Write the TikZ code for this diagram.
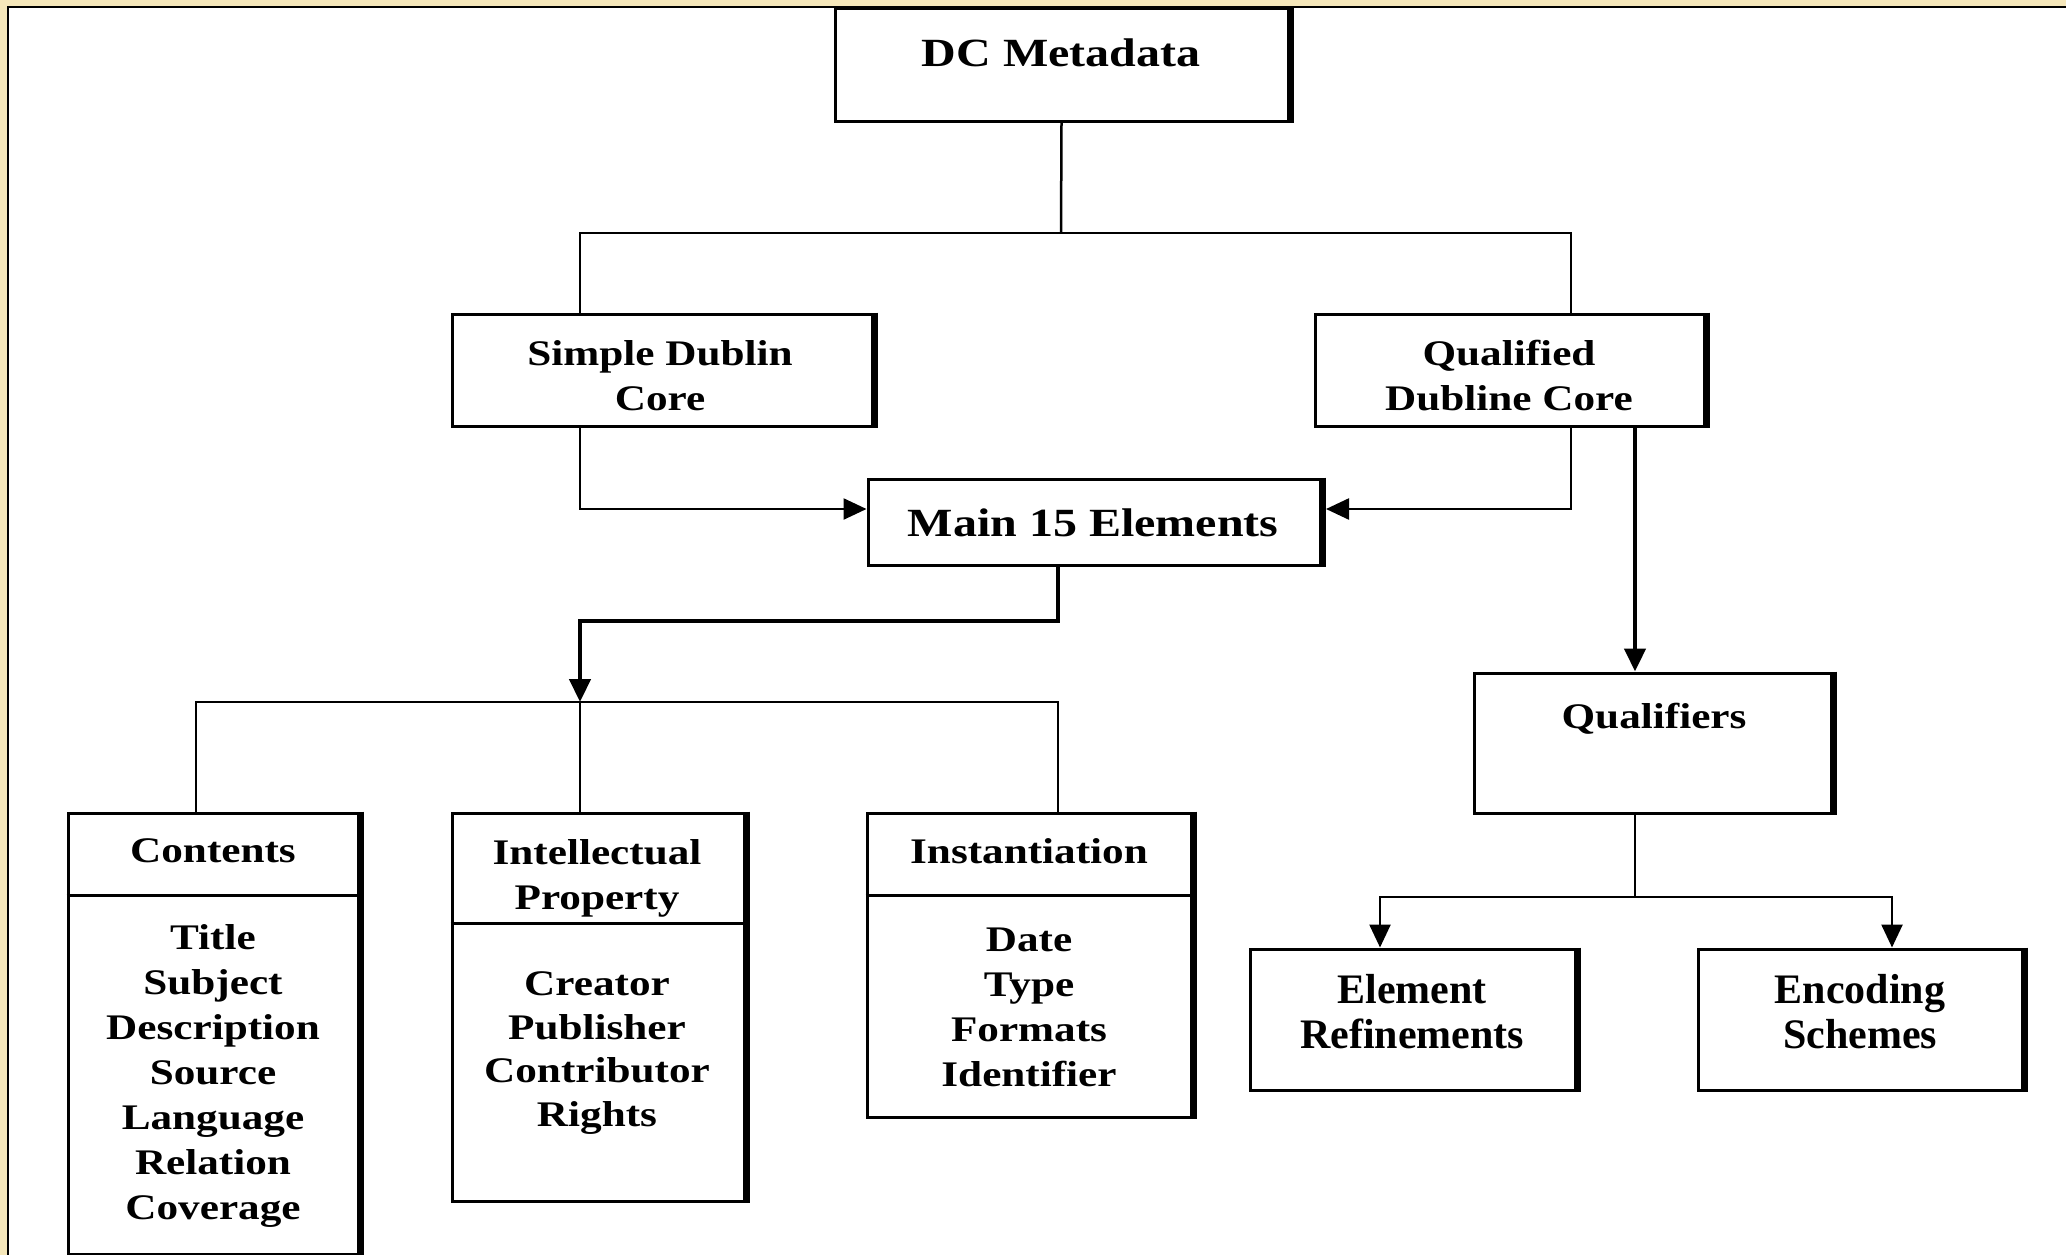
\documentclass[tikz,border=0pt]{standalone}
\usepackage{fontspec}
\setmainfont{Liberation Serif}[FakeStretch=1.2]
\newfontfamily\narrowserif{Liberation Serif}
\usetikzlibrary{arrows.meta}
\definecolor{parchment}{RGB}{245,231,186}
\tikzset{
  box/.style={draw, line width=3pt, rectangle, inner sep=0pt},
  lbl/.style={font=\bfseries\fontsize{36}{45}\selectfont, align=center, inner sep=0pt},
  biglbl/.style={font=\bfseries\fontsize{40}{45}\selectfont, align=center, inner sep=0pt},
  narrowlbl/.style={font=\narrowserif\bfseries\fontsize{42}{45}\selectfont, align=center, inner sep=0pt},
  conn/.style={line width=2.5pt},
  thickconn/.style={line width=4.5pt},
  divider/.style={line width=2.5pt},
  tip/.style={-{Triangle[length=23pt,width=21pt]}},
  edge/.style={line width=6pt}
}
\begin{document}
\begin{tikzpicture}[x=1pt,y=-1pt]
\useasboundingbox (0,0) rectangle (2066,1255);
% page frame
\fill[parchment] (0,0) rectangle (2066,1255);
\fill[white] (8,7) rectangle (2066,1255);
\draw[line width=2.5pt] (8,1255) -- (8,7) -- (2066,7);

% boxes
\node[box, minimum width=453pt, minimum height=112pt] (dc)   at (1061.5,65) {};
\node[box, minimum width=420pt, minimum height=112pt] (sdc)  at (662,370) {};
\node[box, minimum width=389pt, minimum height=112pt] (qdc)  at (1509.5,370) {};
\node[box, minimum width=452pt, minimum height=86pt]  (main) at (1094,522) {};
\node[box, minimum width=357pt, minimum height=140pt] (qual) at (1652.5,743) {};
\node[box, minimum width=290pt, minimum height=441pt] (cont) at (213,1033.5) {};
\node[box, minimum width=292pt, minimum height=388pt] (ip)   at (598,1007) {};
\node[box, minimum width=324pt, minimum height=304pt] (inst) at (1029,965) {};
\node[box, minimum width=325pt, minimum height=141pt] (er)   at (1412.5,1019.5) {};
\node[box, minimum width=324pt, minimum height=141pt] (es)   at (1860,1019.5) {};

% heavier right-hand edges
\foreach \n in {dc,sdc,qdc,main,qual,cont,ip,inst,er,es}
  \draw[edge] ([xshift=1.5pt]\n.north east) -- ([xshift=1.5pt]\n.south east);

% header dividers
\draw[divider] ([yshift=-84pt]cont.north west) -- ([yshift=-84pt]cont.north east);
\draw[divider] ([yshift=-112pt]ip.north west) -- ([yshift=-112pt]ip.north east);
\draw[divider] ([yshift=-84pt]inst.north west) -- ([yshift=-84pt]inst.north east);

% labels
\node[biglbl] (t-dc) at (1061,53) {DC Metadata};
\node[lbl] (t-sdc) at (660,376) {Simple Dublin\\Core};
\node[lbl] (t-qdc) at (1509,376) {Qualified\\Dubline Core};
\node[biglbl] (t-main) at (1093,523) {Main 15 Elements};
\node[lbl] (t-qual) at (1654,719) {Qualifiers};
\node[lbl] (t-cont) at (213,851) {Contents};
\node[lbl] (t-contlist) at (213,1076) {Title\\Subject\\Description\\Source\\Language\\Relation\\Coverage};
\node[lbl] (t-ip) at (597,878) {Intellectual\\Property};
\node[lbl, font=\bfseries\fontsize{36}{43.5}\selectfont] (t-iplist) at (597,1053) {Creator\\Publisher\\Contributor\\Rights};
\node[lbl] (t-inst) at (1029,851) {Instantiation};
\node[lbl] (t-instlist) at (1029,1007) {Date\\Type\\Formats\\Identifier};
\node[narrowlbl] (t-er) at (1412,1012) {Element\\Refinements};
\node[narrowlbl] (t-es) at (1860,1012) {Encoding\\Schemes};

% DC metadata splits into the simple and qualified forms
\coordinate (topbus) at (1061,233);
\draw[conn] (dc.south) -- (topbus);
\draw[conn] ([xshift=-82pt]sdc.north) |- (topbus) -| ([xshift=61.5pt]qdc.north);

% both forms share the main 15 elements
\draw[conn,tip] ([xshift=-82pt]sdc.south) |- ([yshift=13pt]main.west);
\draw[conn,tip] ([xshift=61.5pt]qdc.south) |- ([xshift=4.5pt,yshift=13pt]main.east);

% qualified form adds qualifiers
\draw[thickconn,tip] ([xshift=125.5pt]qdc.south) -- ([xshift=-17.5pt]qual.north);

% main 15 elements fall into three groups
\coordinate (bend) at (580,621);
\coordinate (grpbus) at (580,702);
\draw[thickconn,tip] ([xshift=-36pt]main.south) |- (bend) -- (grpbus);
\draw[conn] ([xshift=-17pt]cont.north) |- (grpbus) -| ([xshift=29pt]inst.north);
\draw[conn] (grpbus) -- ([xshift=-18pt]ip.north);

% qualifiers come in two kinds
\coordinate (qbus) at (1635,897);
\draw[conn] ([xshift=-17.5pt]qual.south) -- (qbus);
\draw[conn,tip] (qbus) -| ([xshift=-32.5pt]er.north);
\draw[conn,tip] (qbus) -| ([xshift=32pt]es.north);
\end{tikzpicture}
\end{document}
